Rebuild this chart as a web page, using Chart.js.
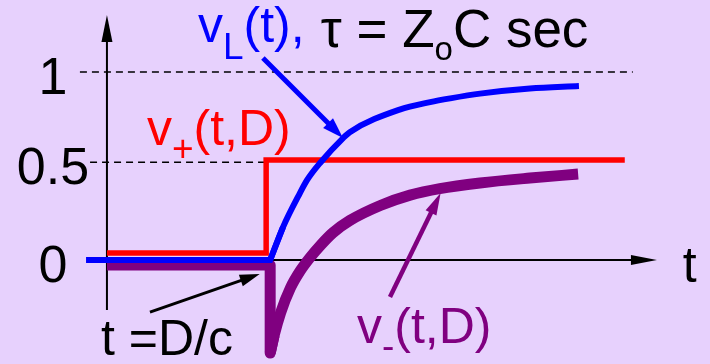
<!DOCTYPE html>
<html>
<head>
<meta charset="utf-8">
<script src="https://cdn.jsdelivr.net/npm/chart.js"></script>
<style>
  html, body { margin: 0; padding: 0; background: #E7D1FD; }
  #wrap { width: 710px; height: 364px; }
</style>
</head>
<body>
<div id="wrap"><canvas id="myChart" width="710" height="364"></canvas></div>
<script>
// v_L(t), load voltage
var vLTime  = [-0.26, 2.03, 2.19, 2.40, 2.49, 2.65, 2.94, 3.02, 3.64, 4.02, 4.27, 4.64, 5.26, 5.87];
var vLValue = [0, 0, 0.175, 0.356, 0.426, 0.516, 0.65, 0.68, 0.80, 0.84, 0.86, 0.885, 0.912, 0.925];

// v+(t,D), incident step
var vPlusTime  = [0, 1.98, 1.98, 6.44];
var vPlusValue = [0.037, 0.037, 0.532, 0.532];

// v-(t,D), reflected wave
var vMinusTime  = [0, 2.03, 2.03, 2.08, 2.16, 2.28, 2.40, 2.52, 2.66, 2.81, 3.02, 3.40, 3.77, 4.14, 4.64, 5.26, 5.86];
var vMinusValue = [-0.027, -0.027, -0.495, -0.40, -0.28, -0.15, -0.06, 0.01, 0.08, 0.145, 0.21, 0.29, 0.345, 0.38, 0.41, 0.436, 0.457];

var tickValues = [0, 0.52, 1];
var tickLabels = ['0', '0.5', '1'];
var tDelay = 2.03;   // t = D/c

var FONT = '"Liberation Sans", Arial, sans-serif';
var BLUE = '#0000FF', RED = '#FF0000', PURPLE = '#800080';

function pts(ts, vs) {
    return ts.map(function (t, i) { return { x: t, y: vs[i] }; });
}

var lPts = pts(vLTime, vLValue);
var kL = vLTime.lastIndexOf(tDelay);
var mPts = pts(vMinusTime, vMinusValue);
var kM = vMinusTime.lastIndexOf(tDelay);

// dashed guide lines
var guides = [
    { y: tickValues[2], from: -0.336, to: 6.54 },
    { y: tickValues[1], from: -0.21, to: 1.97 }
];

// arrows, in data units
var arrows = [
    { from: [1.94, 1.074], to: [2.935, 0.649], color: BLUE, width: 5, len: 21, half: 7 },
    { from: [0.535, -0.277], to: [1.90, -0.074], color: '#000', width: 3, len: 20, half: 6 },
    { from: [3.52, -0.197], to: [4.15, 0.356], color: PURPLE, width: 4.5, len: 22, half: 6 }
];

var texts = [
    { t: 1.132, v: 1.160, parts: [
        { text: 'v', size: 50, color: BLUE },
        { text: 'L', size: 37, dy: 17, color: BLUE },
        { text: '(t),', size: 50, color: BLUE }] },
    { t: 2.66, v: 1.133, parts: [
        { text: '\u03C4 = Z', size: 53 },
        { text: 'o', size: 33, dy: 13 },
        { text: 'C sec', size: 53 }] },
    { t: 0.4975, v: 0.612, parts: [
        { text: 'v', size: 50, color: RED },
        { text: '+', size: 37, dy: 16, color: RED },
        { text: '(t,D)', size: 50, color: RED }] },
    { t: 3.11, v: -0.441, parts: [
        { text: 'v', size: 50, color: PURPLE },
        { text: '-', size: 37, dy: 15, color: PURPLE },
        { text: '(t,D)', size: 50, color: PURPLE }] },
    { t: -0.075, v: -0.505, parts: [{ text: 't =D/c', size: 50 }] },
    { t: 7.16, v: -0.117, parts: [{ text: 't', size: 50 }] }
];

function arrow(ctx, x1, y1, x2, y2, color, width, len, half) {
    var a = Math.atan2(y2 - y1, x2 - x1);
    var bx = x2 - Math.cos(a) * len, by = y2 - Math.sin(a) * len;
    ctx.strokeStyle = color;
    ctx.fillStyle = color;
    ctx.lineWidth = width;
    ctx.lineCap = 'butt';
    ctx.beginPath();
    ctx.moveTo(x1, y1);
    ctx.lineTo(bx + Math.cos(a) * 2, by + Math.sin(a) * 2);
    ctx.stroke();
    ctx.beginPath();
    ctx.moveTo(x2, y2);
    ctx.lineTo(bx - Math.sin(a) * half, by + Math.cos(a) * half);
    ctx.lineTo(bx + Math.sin(a) * half, by - Math.cos(a) * half);
    ctx.closePath();
    ctx.fill();
}

function rich(ctx, x, y, parts) {
    var cx = x;
    parts.forEach(function (p) {
        ctx.font = p.size + 'px ' + FONT;
        ctx.fillStyle = p.color || '#000';
        ctx.fillText(p.text, cx, y + (p.dy || 0));
        cx += ctx.measureText(p.text).width;
    });
}

var overlay = {
    id: 'overlay',
    beforeDatasetsDraw: function (chart) {
        var ctx = chart.ctx, sx = chart.scales.x, sy = chart.scales.y;
        ctx.save();
        // axes
        arrow(ctx, sx.getPixelForValue(0), sy.getPixelForValue(-0.266),
              sx.getPixelForValue(0), sy.getPixelForValue(1.303), '#000', 2, 27, 5.5);
        arrow(ctx, sx.getPixelForValue(0), sy.getPixelForValue(0),
              sx.getPixelForValue(6.84), sy.getPixelForValue(0), '#000', 2, 26, 5);
        // tick labels
        ctx.font = '52px ' + FONT;
        ctx.fillStyle = '#000';
        ctx.textAlign = 'center';
        ctx.textBaseline = 'alphabetic';
        tickValues.forEach(function (v, i) {
            ctx.fillText(tickLabels[i], sx.getPixelForValue(-0.672), sy.getPixelForValue(v) + 21.5);
        });
        ctx.restore();
    },
    afterDatasetsDraw: function (chart) {
        var ctx = chart.ctx, sx = chart.scales.x, sy = chart.scales.y;
        ctx.save();
        arrows.forEach(function (a) {
            arrow(ctx, sx.getPixelForValue(a.from[0]), sy.getPixelForValue(a.from[1]),
                  sx.getPixelForValue(a.to[0]), sy.getPixelForValue(a.to[1]),
                  a.color, a.width, a.len, a.half);
        });
        ctx.textAlign = 'left';
        ctx.textBaseline = 'alphabetic';
        texts.forEach(function (l) {
            rich(ctx, sx.getPixelForValue(l.t), sy.getPixelForValue(l.v), l.parts);
        });
        ctx.restore();
    }
};

var datasets = [];
// blue on top
datasets.push({ data: lPts.slice(0, kL + 2), borderColor: BLUE, borderWidth: 6, order: 1, tension: 0 });
datasets.push({ data: lPts.slice(kL), borderColor: BLUE, borderWidth: 6, order: 1, cubicInterpolationMode: 'monotone' });
datasets.push({ data: pts(vPlusTime, vPlusValue), borderColor: RED, borderWidth: 5.5, order: 2, tension: 0,
                borderJoinStyle: 'miter' });
datasets.push({ data: mPts.slice(0, kM + 2), borderColor: PURPLE, borderWidth: 11, order: 3, tension: 0,
                borderJoinStyle: 'round' });
datasets.push({ data: mPts.slice(kM), borderColor: PURPLE, borderWidth: 11, order: 3,
                cubicInterpolationMode: 'monotone', borderCapStyle: 'butt' });
guides.forEach(function (g) {
    datasets.push({ data: [{ x: g.from, y: g.y }, { x: g.to, y: g.y }], borderColor: '#000',
                    borderWidth: 1.5, borderDash: [7, 5], order: 4, tension: 0 });
});

const ctx = document.getElementById('myChart');

new Chart(ctx, {
    type: 'line',
    data: { datasets: datasets },
    options: {
        responsive: false,
        animation: false,
        events: [],
        layout: { padding: 0 },
        elements: { point: { radius: 0 } },
        plugins: { legend: { display: false }, tooltip: { enabled: false } },
        scales: {
            x: { type: 'linear', min: -1.33, max: 7.5, display: false },
            y: { type: 'linear', min: -0.553, max: 1.383, display: false }
        }
    },
    plugins: [overlay]
});
</script>
</body>
</html>
